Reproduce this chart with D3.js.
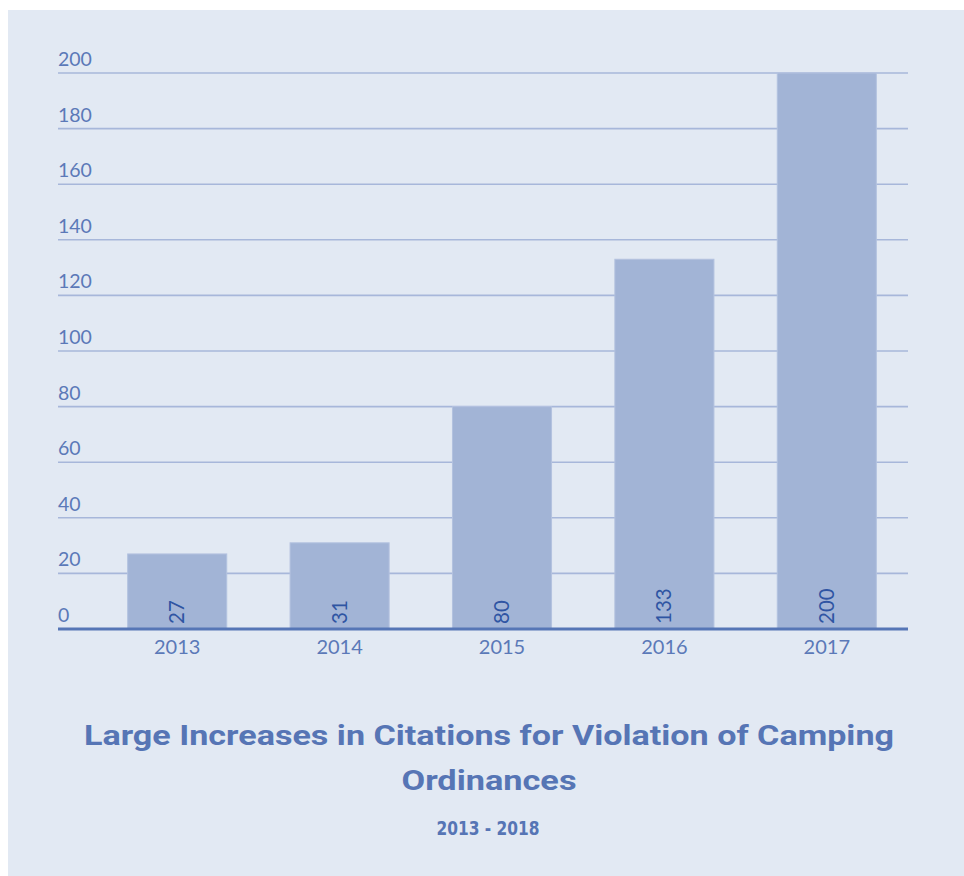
<!DOCTYPE html>
<html>
<head>
<meta charset="utf-8">
<script src="https://cdn.jsdelivr.net/npm/d3@7"></script>
<style>
  html, body { margin: 0; padding: 0; background: #ffffff; }
  svg { display: block; }
</style>
</head>
<body>
<svg id="chart" width="964" height="876"></svg>
<script>
// Citations for violation of camping ordinances, by year
const years = ["2013", "2014", "2015", "2016", "2017"];
const citations = [27, 31, 80, 133, 200];
const yTicks = [0, 20, 40, 60, 80, 100, 120, 140, 160, 180, 200];
const titleLines = ["Large Increases in Citations for Violation of Camping", "Ordinances"];
const subtitle = "2013 - 2018";

const svg = d3.select("#chart");
const W = 964, H = 876;

const colors = {
  panel: "#e2e9f3",
  bar: "#a2b4d6",
  barEdge: "#b3c2df",
  grid: "#a7b7da",
  axis: "#5676b6",
  tick: "#5b79b8",
  value: "#2f55a3",
  title: "#5675b5"
};

// background panel
svg.append("rect")
  .attr("x", 8).attr("y", 10)
  .attr("width", W - 8).attr("height", H - 10)
  .attr("fill", colors.panel);

const plot = { left: 58, right: 908, top: 73, bottom: 629 };

const x = d3.scaleBand()
  .domain(years)
  .range([96, plot.right])
  .paddingInner(0.39)
  .paddingOuter(0.195);

const y = d3.scaleLinear()
  .domain([0, 200])
  .range([plot.bottom, plot.top]);

// horizontal grid lines
svg.append("g")
  .selectAll("line")
  .data(yTicks.filter(d => d > 0))
  .join("line")
  .attr("x1", plot.left).attr("x2", plot.right)
  .attr("y1", d => y(d)).attr("y2", d => y(d))
  .attr("stroke", colors.grid)
  .attr("stroke-width", 1.6);

// tick labels sit above their grid lines, left aligned
svg.append("g")
  .selectAll("text")
  .data(yTicks)
  .join("text")
  .attr("x", plot.left)
  .attr("y", d => y(d) - 7)
  .attr("font-family", "Lato, 'Open Sans', sans-serif")
  .attr("font-size", 19.5)
  .attr("fill", colors.tick)
  .text(d => d);

// bars
svg.append("g")
  .selectAll("rect")
  .data(citations)
  .join("rect")
  .attr("x", (d, i) => x(years[i]))
  .attr("y", d => y(d))
  .attr("width", x.bandwidth())
  .attr("height", d => y(0) - y(d))
  .attr("fill", colors.bar)
  .attr("stroke", colors.barEdge)
  .attr("stroke-width", 1);

// value labels, rotated, at the foot of each bar
svg.append("g")
  .selectAll("text")
  .data(citations)
  .join("text")
  .attr("transform", (d, i) => {
    const cx = x(years[i]) + x.bandwidth() / 2;
    return `translate(${cx + 7},${y(0) - 5}) rotate(-90)`;
  })
  .attr("font-family", "Lato, 'Open Sans', sans-serif")
  .attr("font-size", 20.5)
  .attr("fill", colors.value)
  .text(d => d);

// x axis baseline
svg.append("line")
  .attr("x1", plot.left).attr("x2", plot.right)
  .attr("y1", y(0)).attr("y2", y(0))
  .attr("stroke", colors.axis)
  .attr("stroke-width", 3);

// category labels
const xAxis = d3.axisBottom(x).tickSize(0).tickPadding(10);
const gx = svg.append("g")
  .attr("transform", `translate(0,${y(0) + 1})`)
  .call(xAxis);
gx.select(".domain").remove();
gx.selectAll("text")
  .attr("font-family", "Lato, 'Open Sans', sans-serif")
  .attr("font-size", 20)
  .attr("fill", colors.tick);

// title and subtitle
const titleWidths = [810, 175];
svg.append("g")
  .selectAll("text")
  .data(titleLines)
  .join("text")
  .attr("x", 489)
  .attr("y", (d, i) => 745 + i * 45)
  .attr("text-anchor", "middle")
  .attr("font-family", "Roboto, sans-serif")
  .attr("font-weight", 700)
  .attr("font-size", 28)
  .attr("textLength", (d, i) => titleWidths[i])
  .attr("lengthAdjust", "spacingAndGlyphs")
  .attr("fill", colors.title)
  .text(d => d);

svg.append("text")
  .attr("x", 488)
  .attr("y", 835)
  .attr("text-anchor", "middle")
  .attr("font-family", "'DejaVu Sans Condensed', 'Roboto', sans-serif")
  .attr("font-stretch", "condensed")
  .attr("font-weight", 700)
  .attr("font-size", 19)
  .attr("textLength", 103)
  .attr("lengthAdjust", "spacingAndGlyphs")
  .attr("fill", colors.title)
  .text(subtitle);
</script>
</body>
</html>
